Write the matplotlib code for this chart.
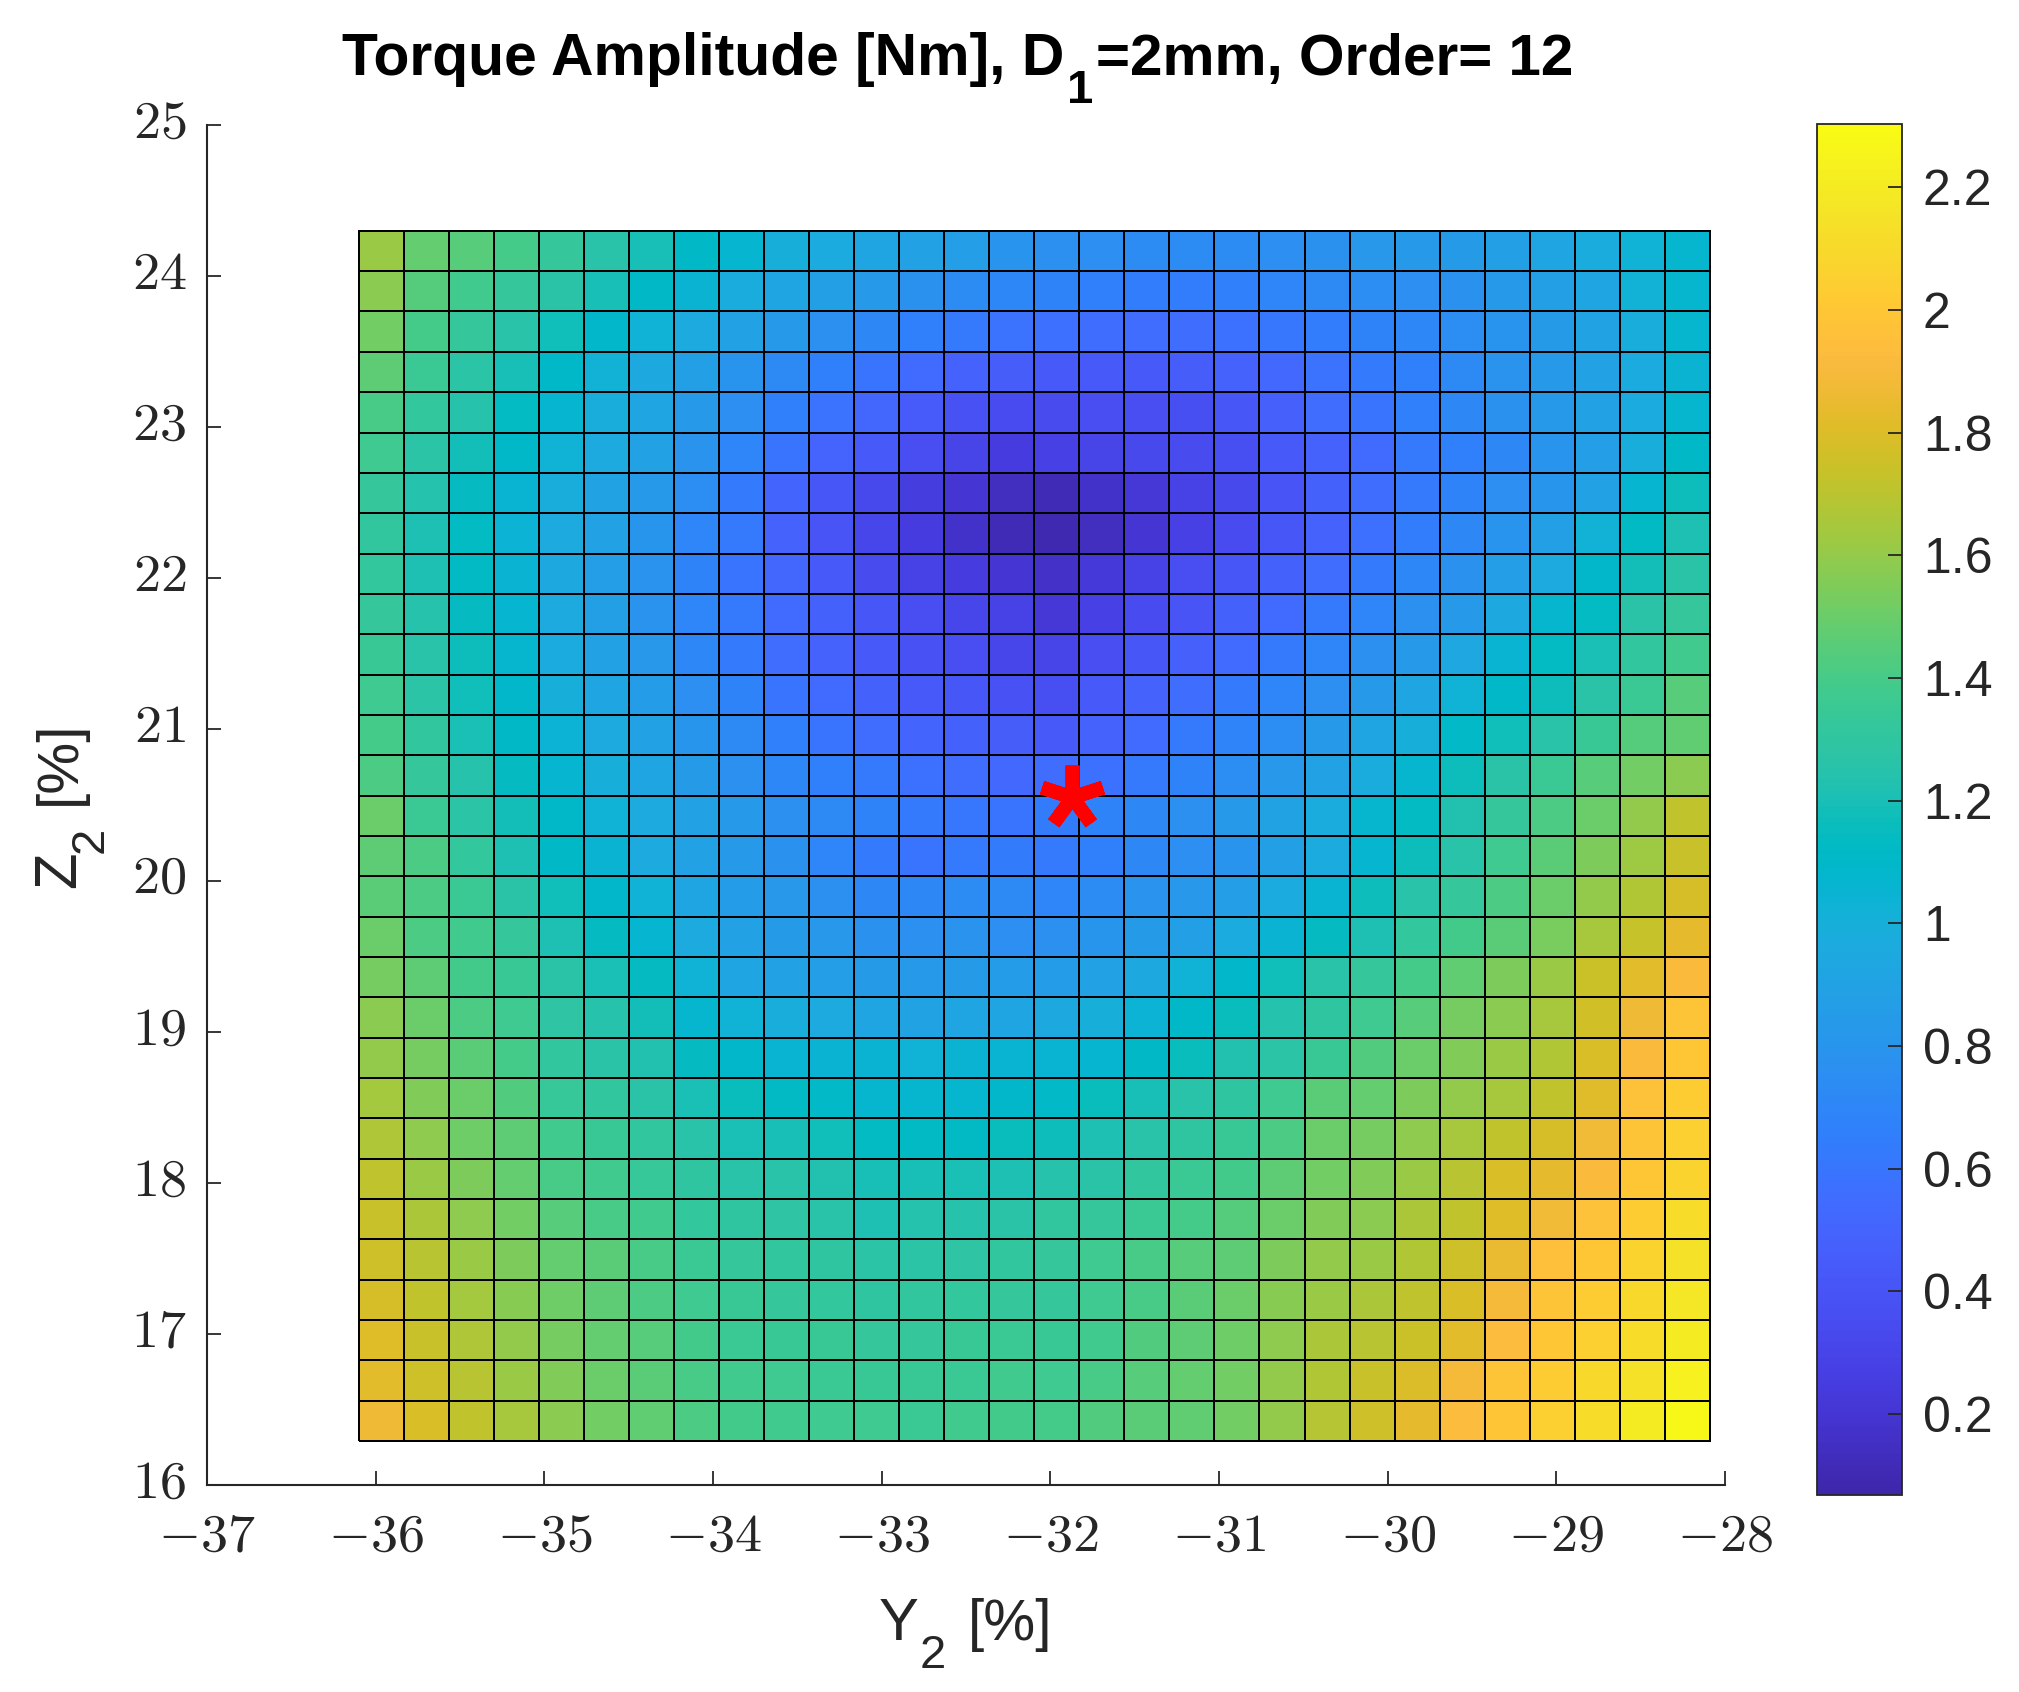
import numpy as np
import matplotlib
matplotlib.use("Agg")
import matplotlib.pyplot as plt
from matplotlib.colors import LinearSegmentedColormap
from matplotlib.transforms import ScaledTranslation

# --- Data ---
y2_range = [-36.10, -28.09]
z2_range = [16.29, 24.30]
optimum_y2 = [-31.87]
optimum_z2 = [20.55]
x_ticks = [-37, -36, -35, -34, -33, -32, -31, -30, -29, -28]
y_ticks = [16, 17, 18, 19, 20, 21, 22, 23, 24, 25]
cbar_ticks = [0.2, 0.4, 0.6, 0.8, 1, 1.2, 1.4, 1.6, 1.8, 2, 2.2]
cbar_labels = ["0.2", "0.4", "0.6", "0.8", "1", "1.2", "1.4", "1.6", "1.8", "2", "2.2"]
clim = [0.068, 2.303]

# first row is the top of the plot
torque_amp = [
    [1.62,1.49,1.45,1.40,1.33,1.26,1.20,1.12,1.07,1.00,.97,.93,.90,.87,.80,.77,.76,.74,.74,.74,.76,.78,.82,.83,.85,.88,.92,.98,1.03,1.08],
    [1.58,1.44,1.38,1.33,1.27,1.20,1.12,1.05,.98,.93,.88,.84,.78,.74,.71,.68,.66,.65,.65,.67,.70,.73,.75,.76,.78,.83,.88,.93,1.02,1.08],
    [1.52,1.40,1.33,1.26,1.18,1.09,1.03,.96,.90,.84,.77,.72,.66,.62,.59,.57,.56,.55,.56,.58,.61,.65,.68,.71,.75,.80,.85,.91,.99,1.08],
    [1.47,1.36,1.28,1.20,1.10,1.02,.95,.88,.80,.73,.66,.60,.54,.49,.46,.44,.44,.44,.46,.49,.53,.59,.63,.67,.73,.79,.84,.90,.97,1.05],
    [1.41,1.32,1.25,1.14,1.07,.99,.92,.84,.76,.67,.59,.52,.45,.39,.35,.34,.36,.36,.37,.41,.47,.55,.60,.66,.72,.78,.84,.90,.97,1.08],
    [1.37,1.28,1.19,1.10,1.03,.96,.89,.79,.70,.60,.50,.43,.36,.30,.25,.28,.30,.33,.34,.37,.43,.49,.54,.62,.67,.72,.80,.87,.99,1.12],
    [1.33,1.24,1.15,1.06,.99,.91,.84,.75,.63,.51,.42,.33,.26,.20,.14,.12,.18,.22,.29,.33,.40,.48,.56,.62,.68,.76,.81,.90,1.07,1.17],
    [1.31,1.22,1.14,1.04,.96,.89,.81,.70,.62,.49,.40,.32,.25,.18,.12,.10,.14,.20,.28,.35,.41,.49,.57,.65,.72,.80,.88,1.02,1.13,1.22],
    [1.32,1.22,1.13,1.05,.95,.87,.79,.68,.60,.52,.44,.34,.29,.25,.20,.17,.23,.29,.36,.42,.48,.55,.63,.71,.78,.87,.96,1.09,1.19,1.27],
    [1.33,1.25,1.15,1.07,.96,.88,.79,.70,.62,.54,.48,.42,.36,.32,.29,.22,.28,.35,.40,.48,.54,.62,.70,.77,.84,.95,1.08,1.14,1.27,1.33],
    [1.35,1.26,1.17,1.08,.97,.89,.82,.71,.63,.55,.49,.44,.39,.36,.32,.30,.36,.42,.47,.54,.62,.70,.77,.84,.94,1.06,1.14,1.21,1.31,1.38],
    [1.37,1.28,1.18,1.09,1.00,.92,.86,.76,.68,.60,.54,.48,.44,.41,.39,.37,.43,.49,.56,.63,.70,.76,.83,.93,1.03,1.10,1.17,1.27,1.36,1.45],
    [1.40,1.31,1.21,1.12,1.04,.96,.90,.81,.73,.66,.60,.55,.51,.48,.46,.44,.49,.54,.62,.69,.75,.83,.93,1.00,1.11,1.18,1.26,1.35,1.44,1.48],
    [1.42,1.33,1.25,1.15,1.07,1.00,.93,.85,.77,.71,.66,.62,.58,.55,.53,.55,.58,.62,.68,.75,.82,.89,.98,1.08,1.17,1.27,1.36,1.45,1.52,1.58],
    [1.50,1.36,1.28,1.19,1.10,1.03,.96,.89,.83,.77,.73,.68,.63,.61,.60,.64,.68,.72,.77,.83,.91,.98,1.08,1.14,1.23,1.33,1.42,1.50,1.60,1.72],
    [1.47,1.42,1.32,1.22,1.12,1.05,.96,.89,.84,.78,.70,.63,.60,.62,.64,.62,.66,.72,.76,.80,.88,.97,1.07,1.17,1.26,1.37,1.46,1.55,1.63,1.74],
    [1.46,1.42,1.36,1.27,1.18,1.09,1.03,.93,.86,.82,.77,.72,.72,.74,.73,.70,.74,.79,.82,.87,.97,1.06,1.17,1.26,1.33,1.42,1.50,1.60,1.68,1.78],
    [1.50,1.42,1.38,1.33,1.22,1.15,1.07,.96,.89,.85,.82,.78,.77,.79,.76,.77,.81,.85,.88,.97,1.05,1.15,1.22,1.32,1.39,1.46,1.54,1.65,1.73,1.84],
    [1.53,1.47,1.39,1.35,1.27,1.21,1.15,1.03,.93,.90,.87,.85,.84,.85,.86,.86,.90,.95,1.03,1.09,1.18,1.26,1.33,1.40,1.48,1.55,1.62,1.75,1.83,1.92],
    [1.58,1.50,1.42,1.37,1.29,1.25,1.19,1.08,1.03,.99,.96,.93,.91,.93,.93,.95,1.00,1.04,1.10,1.16,1.24,1.30,1.37,1.45,1.53,1.58,1.65,1.77,1.87,1.98],
    [1.60,1.53,1.46,1.40,1.31,1.27,1.23,1.15,1.09,1.06,1.05,1.05,1.03,1.05,1.06,1.06,1.07,1.12,1.16,1.23,1.28,1.35,1.43,1.50,1.56,1.62,1.68,1.79,1.92,2.00],
    [1.64,1.56,1.50,1.43,1.34,1.31,1.27,1.21,1.16,1.13,1.11,1.08,1.08,1.08,1.09,1.11,1.16,1.20,1.26,1.30,1.37,1.46,1.49,1.55,1.60,1.65,1.72,1.82,1.97,2.03],
    [1.67,1.59,1.51,1.47,1.38,1.35,1.31,1.26,1.21,1.20,1.18,1.14,1.13,1.13,1.16,1.17,1.22,1.26,1.30,1.35,1.42,1.50,1.53,1.59,1.65,1.72,1.78,1.88,1.98,2.05],
    [1.71,1.62,1.55,1.49,1.41,1.38,1.34,1.30,1.26,1.26,1.23,1.20,1.20,1.21,1.22,1.25,1.27,1.31,1.36,1.39,1.47,1.52,1.56,1.62,1.70,1.79,1.84,1.92,2.00,2.07],
    [1.74,1.66,1.59,1.52,1.45,1.41,1.38,1.32,1.30,1.29,1.26,1.22,1.24,1.25,1.27,1.31,1.33,1.36,1.40,1.44,1.50,1.56,1.58,1.66,1.72,1.81,1.88,1.97,2.03,2.12],
    [1.76,1.70,1.62,1.55,1.49,1.46,1.41,1.36,1.33,1.31,1.30,1.28,1.28,1.29,1.31,1.33,1.37,1.41,1.45,1.47,1.55,1.60,1.62,1.68,1.76,1.85,1.96,2.00,2.07,2.15],
    [1.78,1.72,1.64,1.57,1.51,1.47,1.42,1.37,1.35,1.33,1.32,1.30,1.31,1.32,1.33,1.33,1.37,1.41,1.46,1.50,1.57,1.62,1.66,1.71,1.79,1.90,1.98,2.03,2.10,2.18],
    [1.81,1.74,1.67,1.60,1.53,1.49,1.45,1.39,1.36,1.35,1.35,1.33,1.33,1.35,1.36,1.35,1.38,1.43,1.47,1.51,1.59,1.66,1.70,1.75,1.83,1.93,2.00,2.05,2.12,2.20],
    [1.83,1.76,1.70,1.62,1.56,1.50,1.46,1.41,1.38,1.37,1.36,1.35,1.35,1.36,1.38,1.37,1.41,1.45,1.49,1.52,1.60,1.68,1.74,1.80,1.90,1.98,2.03,2.10,2.15,2.24],
    [1.87,1.79,1.72,1.65,1.58,1.52,1.48,1.42,1.39,1.38,1.37,1.37,1.36,1.38,1.39,1.40,1.43,1.46,1.48,1.52,1.60,1.69,1.76,1.84,1.93,1.99,2.05,2.12,2.20,2.28],
]

# MATLAB parula, 64 levels
parula = [
    [0.2422,0.1504,0.6603],[0.2504,0.1650,0.7076],[0.2578,0.1818,0.7511],[0.2647,0.1978,0.7952],
    [0.2706,0.2147,0.8364],[0.2751,0.2342,0.8710],[0.2783,0.2559,0.8991],[0.2803,0.2782,0.9221],
    [0.2813,0.3006,0.9414],[0.2810,0.3228,0.9579],[0.2795,0.3447,0.9717],[0.2760,0.3667,0.9829],
    [0.2699,0.3892,0.9906],[0.2602,0.4123,0.9952],[0.2440,0.4358,0.9988],[0.2206,0.4603,0.9973],
    [0.1963,0.4847,0.9892],[0.1834,0.5074,0.9798],[0.1786,0.5289,0.9682],[0.1764,0.5499,0.9520],
    [0.1687,0.5703,0.9359],[0.1540,0.5902,0.9218],[0.1460,0.6091,0.9079],[0.1380,0.6276,0.8973],
    [0.1248,0.6459,0.8883],[0.1113,0.6635,0.8763],[0.0952,0.6798,0.8598],[0.0689,0.6948,0.8394],
    [0.0297,0.7082,0.8163],[0.0036,0.7203,0.7917],[0.0067,0.7312,0.7660],[0.0433,0.7411,0.7394],
    [0.0964,0.7500,0.7120],[0.1408,0.7584,0.6842],[0.1717,0.7670,0.6554],[0.1938,0.7758,0.6251],
    [0.2161,0.7843,0.5923],[0.2470,0.7918,0.5567],[0.2906,0.7973,0.5188],[0.3406,0.8008,0.4789],
    [0.3909,0.8029,0.4354],[0.4456,0.8024,0.3909],[0.5044,0.7993,0.3480],[0.5616,0.7942,0.3045],
    [0.6174,0.7876,0.2612],[0.6720,0.7793,0.2227],[0.7242,0.7698,0.1910],[0.7738,0.7598,0.1646],
    [0.8203,0.7498,0.1535],[0.8634,0.7406,0.1596],[0.9035,0.7330,0.1774],[0.9393,0.7288,0.2100],
    [0.9728,0.7298,0.2394],[0.9956,0.7434,0.2371],[0.9970,0.7659,0.2199],[0.9952,0.7861,0.1991],
    [0.9892,0.8135,0.1885],[0.9786,0.8397,0.1766],[0.9676,0.8639,0.1643],[0.9610,0.8890,0.1537],
    [0.9597,0.9135,0.1423],[0.9628,0.9373,0.1265],[0.9691,0.9606,0.1064],[0.9769,0.9839,0.0805],
]

plt.rcParams["font.family"] = "Liberation Sans"
plt.rcParams["mathtext.fontset"] = "cm"
W, H = 2019, 1692
dark = "#262626"
cmap = LinearSegmentedColormap.from_list("parula", parula, N=256)

fig = plt.figure(figsize=(W / 100, H / 100), dpi=100)

# --- Main axes ---
ax = fig.add_axes([207 / W, 1 - 1485 / H, (1725 - 207) / W, (1485 - 125) / H])
z = np.array(torque_amp)[::-1]
xe = np.linspace(y2_range[0], y2_range[1], z.shape[1] + 1)
ye = np.linspace(z2_range[0], z2_range[1], z.shape[0] + 1)
mesh = ax.pcolormesh(xe, ye, z, cmap=cmap, vmin=clim[0], vmax=clim[1],
                     edgecolors="black", linewidth=1.4)
ax.plot(optimum_y2, optimum_z2, linestyle="none", marker=(5, 2, 0), color="#ff0000",
        markersize=46, markeredgewidth=10)

ax.set_xlim(-37, -28)
ax.set_ylim(16, 25)
ax.spines["top"].set_visible(False)
ax.spines["right"].set_visible(False)
for s in ["left", "bottom"]:
    ax.spines[s].set_color(dark)
    ax.spines[s].set_linewidth(1.5)
ax.set_xticks(x_ticks)
ax.set_yticks(y_ticks)
ax.set_xticklabels([r"$-%d$" % abs(v) for v in x_ticks])
ax.set_yticklabels([r"$%d$" % v for v in y_ticks])
ax.tick_params(axis="x", direction="in", length=10, width=1.3, color=dark, labelcolor=dark, labelsize=39, pad=19)
ax.tick_params(axis="y", direction="in", length=10, width=1.3, color=dark, labelcolor=dark, labelsize=39, pad=15)
# y labels sit a little above their ticks in the original
for lab in ax.get_yticklabels():
    lab.set_transform(lab.get_transform() + ScaledTranslation(0, 5 / 72, fig.dpi_scale_trans))

# --- Colorbar ---
cax = fig.add_axes([1817 / W, 1 - 1495 / H, (1902 - 1817) / W, (1495 - 124) / H])
cb = fig.colorbar(mesh, cax=cax)
cb.set_ticks(cbar_ticks)
cb.set_ticklabels(cbar_labels)
cb.ax.tick_params(direction="in", length=10, width=1.3, color=dark, labelcolor=dark, labelsize=36, pad=15)
cb.outline.set_edgecolor(dark)
cb.outline.set_linewidth(1.3)
cb.solids.set_edgecolor("face")


def px_text(x, y, s, **kw):
    fig.text(x / W, 1 - y / H, s, va="baseline", rotation_mode="anchor", **kw)


# --- Text, subscripts set apart as in the original ---
px_text(1064, 75, "Torque Amplitude [Nm], D", ha="right", fontsize=42.4, fontweight="bold", color="black")
px_text(1080, 103, "1", ha="center", fontsize=34, fontweight="bold", color="black")
px_text(1096, 75, "=2mm, Order= 12", ha="left", fontsize=42, fontweight="bold", color="black")

px_text(919, 1640, "Y", ha="right", fontsize=43, color=dark)
px_text(933, 1668, "2", ha="center", fontsize=34, color=dark)
px_text(968, 1640, "[%]", ha="left", fontsize=42, color=dark)

px_text(75, 888, "Z", ha="left", rotation=90, fontsize=43, color=dark)
px_text(103, 840, "2", ha="center", rotation=90, fontsize=34, color=dark)
px_text(75, 805, "[%]", ha="left", rotation=90, fontsize=42, color=dark)

fig.savefig("out.png", dpi=100)
